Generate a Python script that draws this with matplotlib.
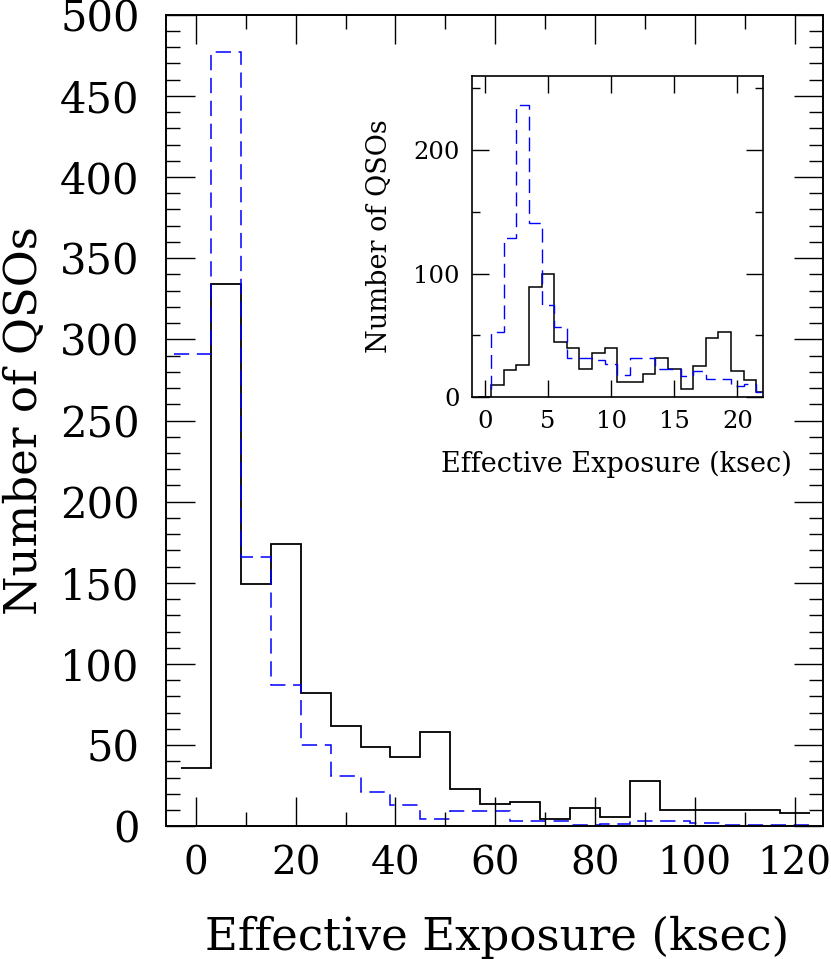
import numpy as np
import matplotlib
matplotlib.use("Agg")
import matplotlib.pyplot as plt
from matplotlib.ticker import MultipleLocator

plt.rcParams['font.family'] = ['DejaVu Serif']

# ---------------- data ----------------
black_edges = np.arange(-3, 124, 6)
black_main = [36, 334, 149, 174, 82, 62, 49, 43, 58, 23, 14, 15, 4.5, 11, 5.5, 28,
              10, 10, 10, 10, 8]
blue_edges = np.arange(-9, 124, 6)
blue_main = [291, 291, 477, 166, 87, 50, 31, 21, 13, 4.3, 9.2, 9.4, 3.3, 3.3, 0.5, 1.4, 3.3,
             3.3, 2.2, 0.5, 0.5, 0.5]

inset_edges = np.arange(-0.5, 23, 1)
black_inset = [0, 10, 22, 26, 89, 100, 45, 40, 23, 36, 40, 12, 12, 19, 32, 23, 7, 25,
               48, 53, 21, 14, 4]
blue_inset = [0, 53, 129, 236, 141, 75, 57, 32, 32, 30, 27, 18, 32, 32, 23, 23, 17, 21.5,
              14.5, 14.5, 9, 10.7, 4]

main_xticks = [0, 20, 40, 60, 80, 100, 120]
main_yticks = [0, 50, 100, 150, 200, 250, 300, 350, 400, 450, 500]
inset_xticks = [0, 5, 10, 15, 20]
inset_yticks = [0, 100, 200]

xlabel = "Effective Exposure (ksec)"
ylabel = "Number of QSOs"

W, H = 831, 959
fig = plt.figure(figsize=(W / 100, H / 100), dpi=100)

# ---------------- main axes ----------------
L, R, T, B = 166, 823, 14.7, 826.3
ax = fig.add_axes([L / W, 1 - B / H, (R - L) / W, (B - T) / H])
ax.stairs(black_main, black_edges, baseline=None, color='black', lw=1.3)
ax.stairs(blue_main, blue_edges, baseline=None, color='blue', lw=1.1,
          linestyle=(0, (10, 5)))
ax.set_xlim(-6, 125.7)
ax.set_ylim(0, 500)
ax.set_xticks(main_xticks, labels=[str(t) for t in main_xticks])
ax.set_yticks(main_yticks, labels=[str(t) for t in main_yticks])
ax.xaxis.set_minor_locator(MultipleLocator(10))
ax.yaxis.set_minor_locator(MultipleLocator(10))
ax.tick_params(which='both', direction='in', top=True, right=True, width=1.0)
ax.tick_params(which='major', length=21)
ax.tick_params(which='minor', length=10)
ax.tick_params(axis='x', labelsize=28, pad=14)
ax.tick_params(axis='y', labelsize=30, pad=19)
for s in ax.spines.values():
    s.set_linewidth(1.4)
ax.set_xlabel(xlabel, fontsize=32.5)
ax.set_ylabel(ylabel, fontsize=32.5)
ax.xaxis.set_label_coords((497 - L) / (R - L), (B - 916) / (B - T))
ax.yaxis.set_label_coords((46 - L) / (R - L), (B - 421) / (B - T))

# ---------------- inset axes ----------------
iL, iR, iT, iB = 472, 762.7, 75.7, 397.3
ia = fig.add_axes([iL / W, 1 - iB / H, (iR - iL) / W, (iB - iT) / H])
ia.stairs(black_inset, inset_edges, baseline=None, color='black', lw=1.1)
ia.stairs(blue_inset, inset_edges, baseline=None, color='blue', lw=1.0,
          linestyle=(0, (10, 5)))
ia.set_xlim(-1, 22)
ia.set_ylim(0, 260)
ia.set_xticks(inset_xticks, labels=[str(t) for t in inset_xticks])
ia.set_yticks(inset_yticks, labels=[str(t) for t in inset_yticks])
ia.yaxis.set_minor_locator(MultipleLocator(50))
ia.tick_params(which='both', direction='in', top=True, right=True, width=1.0)
ia.tick_params(which='major', length=12)
ia.tick_params(which='minor', length=6)
ia.tick_params(axis='both', labelsize=17.5, pad=9)
for s in ia.spines.values():
    s.set_linewidth(1.2)
ia.set_xlabel(xlabel, fontsize=19.5)
ia.set_ylabel(ylabel, fontsize=19.5)
ia.xaxis.set_label_coords((616 - iL) / (iR - iL), (iB - 451) / (iB - iT))
ia.yaxis.set_label_coords((393 - iL) / (iR - iL), (iB - 236.5) / (iB - iT))

fig.savefig("out.png", dpi=100)
